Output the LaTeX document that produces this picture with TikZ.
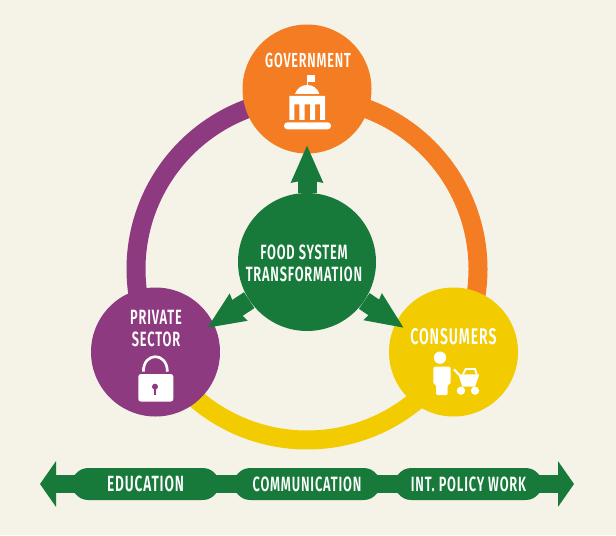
\documentclass[tikz,border=0pt]{standalone}
\usepackage{fontspec}
\usetikzlibrary{arrows.meta,backgrounds}
\setmainfont[FakeStretch=0.62,LetterSpace=4]{Fira Sans SemiBold}
\definecolor{cream}{HTML}{F5F2E8}
\definecolor{gorange}{HTML}{F47D23}
\definecolor{gpurple}{HTML}{8E3A80}
\definecolor{gyellow}{HTML}{F2CB00}
\definecolor{ggreen}{HTML}{177A3A}
\newcommand{\lab}[1]{\fontsize{#1pt}{15pt}\selectfont}
\newcommand{\pillshape}[1]{%
 \fill[ggreen] ([shift={(0,-9)}]#1.west) .. controls ([shift={(4,-14)}]#1.west) and ([shift={(8,-16)}]#1.west) .. ([shift={(14,-16)}]#1.west)
  -- ([shift={(-14,-16)}]#1.east) .. controls ([shift={(-8,-16)}]#1.east) and ([shift={(-4,-14)}]#1.east) .. ([shift={(0,-9)}]#1.east)
  -- ([shift={(0,9)}]#1.east) .. controls ([shift={(-4,14)}]#1.east) and ([shift={(-8,16)}]#1.east) .. ([shift={(-14,16)}]#1.east)
  -- ([shift={(14,16)}]#1.west) .. controls ([shift={(8,16)}]#1.west) and ([shift={(4,14)}]#1.west) .. ([shift={(0,9)}]#1.west) -- cycle;}
\tikzset{
 x=0.75pt,y=-0.75pt,
 hub/.style={circle,minimum size=96.75pt,inner sep=0pt},
 core/.style={circle,fill=ggreen,minimum size=103.5pt,inner sep=0pt},
 ring/.style={line width=14.25pt},
 spoke/.style={draw=ggreen,line width=14.25pt,-{Stealth[length=27.5pt,width=22.5pt,inset=1.5pt,fill=ggreen]}},
 pill/.style={rectangle,minimum height=24pt,inner sep=0pt,text=white},
 label/.style={text=white,align=center,inner sep=0pt},
 barline/.style={draw=ggreen,line width=13.5pt},
 bartip/.style={-{Triangle[length=12pt,width=33.75pt,fill=ggreen]}},
 zoomed/.style={scale=1/3},
 icon/.style={fill=white,draw=none},
}
\begin{document}
\begin{tikzpicture}
\useasboundingbox (0,0) rectangle (616,535);
\begin{scope}[on background layer]
\fill[cream] (0,0) rectangle (616,535);
\end{scope}

% ring segments
\coordinate (ringc) at (307,269);
\draw[ring,gorange] ([shift={(75:128.25pt)}]ringc) arc[start angle=75,end angle=-25,radius=128.25pt];
\draw[ring,gyellow] ([shift={(-35:128.25pt)}]ringc) arc[start angle=-35,end angle=-145,radius=128.25pt];
\draw[ring,gpurple] ([shift={(-155:128.25pt)}]ringc) arc[start angle=-155,end angle=-255,radius=128.25pt];

% hubs
\node[hub,fill=gorange] (gov) at (307,89) {};
\node[hub,fill=gpurple] (priv) at (155.5,352) {};
\node[hub,fill=gyellow] (cons) at (453.5,352) {};
\node[label,font=\lab{15.25}] (govt) at (308,60) {GOVERNMENT};
\node[label,font=\lab{15.5}] (privt) at (156,329) {PRIVATE\\[1.5pt]SECTOR};
\node[label,font=\lab{17}] (const) at (453.5,337) {CONSUMERS};

% spokes
\node[core] (food) at (307,262) {};
\coordinate (tipU) at (307,145);
\coordinate (tipL) at (207,328);
\coordinate (tipR) at (404,328);
\draw[spoke] (food) -- (tipU);
\draw[spoke] (food) -- (tipL);
\draw[spoke] (food) -- (tipR);
\node[label,font=\lab{15.5}] (foodt) at (304,263.5) {FOOD SYSTEM\\[1pt]TRANSFORMATION};

% government icon
\begin{scope}[shift={(240,20)},zoomed]
 \fill[icon] (200,165) rectangle (225,185);
 \fill[icon] (200,165) rectangle (205,197);
 \fill[icon] (165,222) .. controls (170,205) and (185,195) .. (202,195) .. controls (219,195) and (233,205) .. (238,222) -- cycle;
 \fill[icon] (148,228) -- (255,228) -- (255,300) -- (240,300) -- (240,253) -- (225,253) -- (225,300) -- (210,300) -- (210,253) -- (194,253) -- (194,300) -- (178,300) -- (178,253) -- (163,253) -- (163,300) -- (148,300) -- cycle;
 \fill[icon,rounded corners=2.5pt] (132,307) rectangle (273,328);
\end{scope}

% lock icon
\begin{scope}[shift={(85,280)},zoomed]
 \draw[white,line width=2pt] (175,275) .. controls (175,215) and (247,215) .. (247,275);
 \fill[icon,rounded corners=2pt] (160,282) rectangle (265,365);
 \fill[gpurple] (210,320) circle[radius=9];
 \draw[gpurple,line width=1.2pt] (210,320) -- (210,345);
\end{scope}

% person and cart icon
\begin{scope}[shift={(425,345)},zoomed]
 \fill[icon] (45,38) circle[radius=18.5];
 \fill[icon,rounded corners=1pt] (25,65) -- (77,65) -- (77,118) -- (68,118) -- (68,150) -- (33,150) -- (33,118) -- (25,118) -- cycle;
 \draw[white,line width=1.6pt] (87,73) -- (103,90);
 \fill[icon] (100,88) -- (163,88) -- (150,125) -- (112,125) -- cycle;
 \draw[white,line width=1.4pt] (114,88) -- (122,72) -- (150,72) -- (155,88);
 \fill[icon] (108,137) circle[radius=12.5];
 \fill[icon] (150,137) circle[radius=12.5];
\end{scope}

% bottom band
\node[pill,minimum width=105.75pt,font=\lab{16.5}] (edu) at (145.5,484) {EDUCATION};
\node[pill,minimum width=105pt,font=\lab{15.5}] (com) at (307,484) {COMMUNICATION};
\node[pill,minimum width=105.75pt,font=\lab{15.5}] (pol) at (468.5,484) {INT. POLICY WORK};
\begin{scope}[on background layer]
\pillshape{edu}
\pillshape{com}
\pillshape{pol}
\end{scope}
\coordinate (endL) at (40,484);
\coordinate (endR) at (574,484);
\draw[barline] (edu) -- (com);
\draw[barline] (com) -- (pol);
\draw[barline,bartip] (edu) -- (endL);
\draw[barline,bartip] (pol) -- (endR);
\end{tikzpicture}
\end{document}
